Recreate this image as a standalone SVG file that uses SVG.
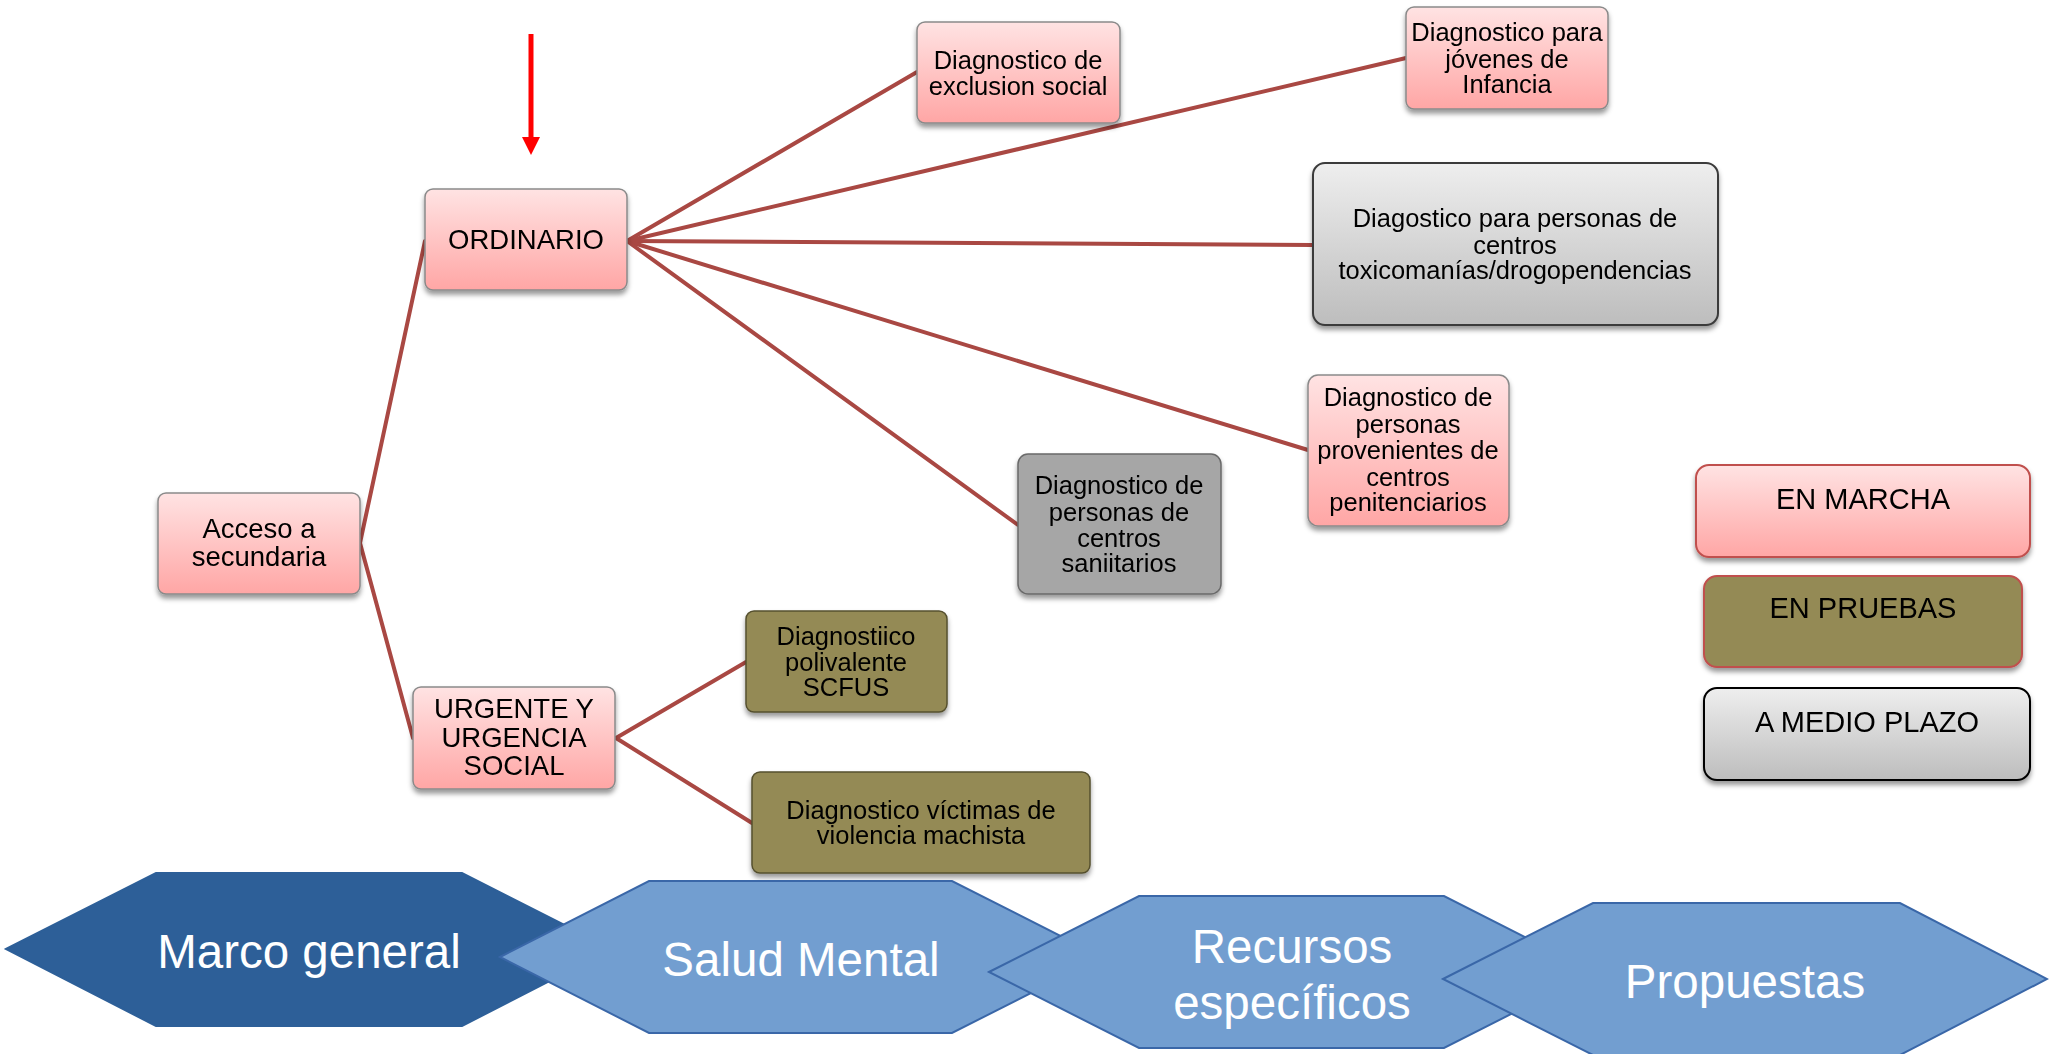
<svg xmlns="http://www.w3.org/2000/svg" width="2049" height="1054" viewBox="0 0 2049 1054">
  <defs>
    <linearGradient id="gPink" x1="0" y1="0" x2="0" y2="1">
      <stop offset="0" stop-color="#FFE3E3"/>
      <stop offset="1" stop-color="#FFA6A5"/>
    </linearGradient>
    <linearGradient id="gGray" x1="0" y1="0" x2="0" y2="1">
      <stop offset="0" stop-color="#EEEEEE"/>
      <stop offset="1" stop-color="#BDBDBD"/>
    </linearGradient>
    <filter id="shadow" x="-10%" y="-10%" width="120%" height="130%">
      <feDropShadow dx="0" dy="4" stdDeviation="2.5" flood-color="#000" flood-opacity="0.4"/>
    </filter>
  </defs>
  <style>
    .node { filter: url(#shadow); }
    .pink { fill: url(#gPink); stroke: #8A8A8A; stroke-width: 1.5; }
    .gray { fill: url(#gGray); stroke: #3A3A3A; stroke-width: 2; }
    .dgray { fill: #A6A6A6; stroke: #6A6A6A; stroke-width: 1.5; }
    .olive { fill: #948A54; stroke: #55502F; stroke-width: 1.5; }
    .t { font-family: "Liberation Sans", Arial, sans-serif; font-size: 25.5px; fill: #000; text-anchor: middle; }
    .t26 { font-size: 27.5px; }
    .leg { font-family: "Liberation Sans", Arial, sans-serif; font-size: 29px; fill: #000; text-anchor: middle; }
    .hex { stroke: #3A67A8; stroke-width: 2; }
    .ht { font-family: "Liberation Sans", Arial, sans-serif; font-size: 47.5px; fill: #FFFFFF; text-anchor: middle; }
    .conn { stroke: #A94843; stroke-width: 4; fill: none; stroke-linecap: round; }
  </style>

  <rect width="2049" height="1054" fill="#FFFFFF"/>

  <!-- red pointer arrow above ORDINARIO -->
  <g id="pointer">
    <line x1="531" y1="34" x2="531" y2="140" stroke="#FF0000" stroke-width="5"/>
    <polygon points="522,137 540,137 531,155" fill="#FF0000"/>
  </g>

  <!-- connectors -->
  <g id="connectors" class="conn">
    <line x1="360" y1="543" x2="425" y2="241"/>
    <line x1="360" y1="543" x2="413" y2="738"/>
    <line x1="627" y1="241" x2="917" y2="72"/>
    <line x1="627" y1="241" x2="1406" y2="58"/>
    <line x1="627" y1="241" x2="1313" y2="245"/>
    <line x1="627" y1="241" x2="1308" y2="450"/>
    <line x1="627" y1="241" x2="1018" y2="525"/>
    <line x1="616" y1="738" x2="746" y2="662"/>
    <line x1="616" y1="738" x2="752" y2="823"/>
  </g>

  <!-- tree nodes -->
  <g id="acceso" class="node">
    <rect class="pink" x="158" y="493" width="202" height="101" rx="8"/>
    <text class="t t26" x="259" y="538">Acceso a</text>
    <text class="t t26" x="259" y="566">secundaria</text>
  </g>

  <g id="ordinario" class="node">
    <rect class="pink" x="425" y="189" width="202" height="101" rx="8"/>
    <text class="t t26" x="526" y="249">ORDINARIO</text>
  </g>

  <g id="urgente" class="node">
    <rect class="pink" x="413" y="687" width="202" height="102" rx="8"/>
    <text class="t t26" x="514" y="718">URGENTE Y</text>
    <text class="t t26" x="514" y="747">URGENCIA</text>
    <text class="t t26" x="514" y="775">SOCIAL</text>
  </g>

  <g id="exclusion" class="node">
    <rect class="pink" x="917" y="22" width="203" height="101" rx="8"/>
    <text class="t" x="1018" y="69">Diagnostico de</text>
    <text class="t" x="1018" y="95">exclusion social</text>
  </g>

  <g id="infancia" class="node">
    <rect class="pink" x="1406" y="7" width="202" height="102" rx="8"/>
    <text class="t" x="1507" y="41">Diagnostico para</text>
    <text class="t" x="1507" y="68">jóvenes de</text>
    <text class="t" x="1507" y="93">Infancia</text>
  </g>

  <g id="toxicomanias" class="node">
    <rect class="gray" x="1313" y="163" width="405" height="162" rx="12"/>
    <text class="t" x="1515" y="227">Diagostico para personas de</text>
    <text class="t" x="1515" y="254">centros</text>
    <text class="t" x="1515" y="279">toxicomanías/drogopendencias</text>
  </g>

  <g id="penitenciarios" class="node">
    <rect class="pink" x="1308" y="375" width="201" height="151" rx="10"/>
    <text class="t" x="1408" y="406">Diagnostico de</text>
    <text class="t" x="1408" y="433">personas</text>
    <text class="t" x="1408" y="459">provenientes de</text>
    <text class="t" x="1408" y="486">centros</text>
    <text class="t" x="1408" y="511">penitenciarios</text>
  </g>

  <g id="sanitarios" class="node">
    <rect class="dgray" x="1018" y="454" width="203" height="140" rx="10"/>
    <text class="t" x="1119" y="494">Diagnostico de</text>
    <text class="t" x="1119" y="521">personas de</text>
    <text class="t" x="1119" y="547">centros</text>
    <text class="t" x="1119" y="572">saniitarios</text>
  </g>

  <g id="polivalente" class="node">
    <rect class="olive" x="746" y="611" width="201" height="101" rx="8"/>
    <text class="t" x="846" y="645">Diagnostiico</text>
    <text class="t" x="846" y="671">polivalente</text>
    <text class="t" x="846" y="696">SCFUS</text>
  </g>

  <g id="victimas" class="node">
    <rect class="olive" x="752" y="772" width="338" height="101" rx="8"/>
    <text class="t" x="921" y="819">Diagnostico víctimas de</text>
    <text class="t" x="921" y="844">violencia machista</text>
  </g>

  <!-- legend -->
  <g id="legend-en-marcha" class="node">
    <rect x="1696" y="465" width="334" height="92" rx="13" fill="url(#gPink)" stroke="#C0504D" stroke-width="2"/>
    <text class="leg" x="1863" y="509">EN MARCHA</text>
  </g>
  <g id="legend-en-pruebas" class="node">
    <rect x="1704" y="576" width="318" height="91" rx="13" fill="#948A54" stroke="#C0504D" stroke-width="2"/>
    <text class="leg" x="1863" y="618">EN PRUEBAS</text>
  </g>
  <g id="legend-medio-plazo" class="node">
    <rect x="1704" y="688" width="326" height="92" rx="13" fill="url(#gGray)" stroke="#000000" stroke-width="2"/>
    <text class="leg" x="1867" y="732">A MEDIO PLAZO</text>
  </g>

  <!-- section navigation hexagons -->
  <g id="marco-general">
    <polygon points="6,949 156,873 462,873 612,949 462,1026 156,1026" fill="#2D5F98" stroke="#2D5F98" stroke-width="2"/>
    <text class="ht" x="309" y="968">Marco general</text>
  </g>
  <g id="salud-mental">
    <polygon class="hex" points="500,957 649,881 952,881 1102,957 952,1033 649,1033" fill="#729ED0"/>
    <text class="ht" x="801" y="976">Salud Mental</text>
  </g>
  <g id="recursos-especificos">
    <polygon class="hex" points="989,972 1139,896 1444,896 1594,972 1444,1048 1139,1048" fill="#729ED0"/>
    <text class="ht" x="1292" y="963">Recursos</text>
    <text class="ht" x="1292" y="1019">específicos</text>
  </g>
  <g id="propuestas">
    <polygon class="hex" points="1443,979 1593,903 1900,903 2047,979 1900,1055 1593,1055" fill="#729ED0"/>
    <text class="ht" x="1745" y="998">Propuestas</text>
  </g>
</svg>
